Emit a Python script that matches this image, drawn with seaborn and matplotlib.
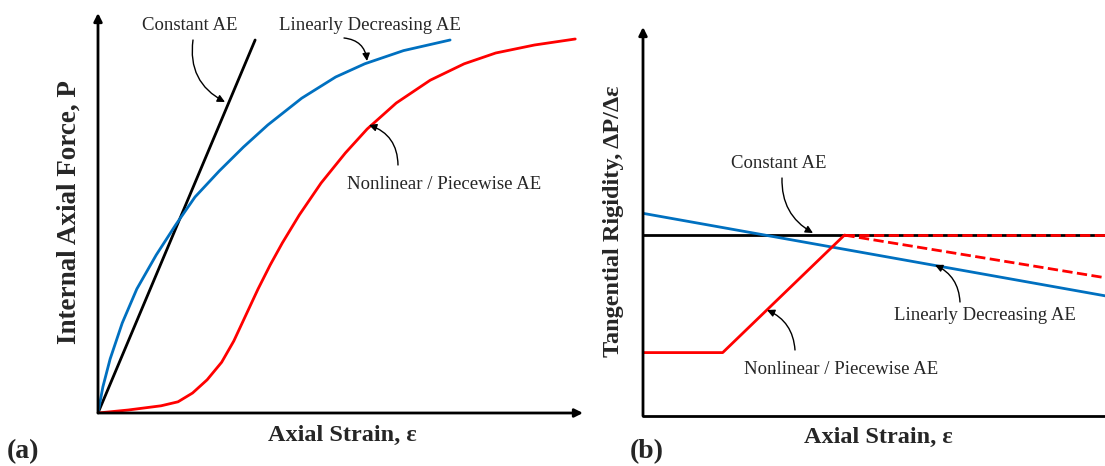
import matplotlib
matplotlib.use("Agg")
import matplotlib.pyplot as plt
from matplotlib.patches import FancyArrowPatch
import seaborn as sns

sns.set_theme(style="white")
plt.rcParams["font.family"] = ["Liberation Serif", "DejaVu Serif"]

BLUE = "#0070c0"
RED = "#ff0000"
W, H = 1105, 466

# ---- panel (a): force vs strain (normalised units) ----
const_x = [0.0, 0.324]
const_y = [0.0, 0.9325]

lin_x = [0.0, 0.01, 0.025, 0.05, 0.08, 0.12, 0.16, 0.2, 0.25, 0.3, 0.35, 0.42,
         0.49, 0.55, 0.63, 0.726]
lin_y = [0.0, 0.065, 0.135, 0.225, 0.31, 0.395, 0.47, 0.54, 0.605, 0.665, 0.72, 0.787,
         0.84, 0.873, 0.906, 0.9325]

nl_x = [0.0, 0.0625, 0.13, 0.165, 0.195, 0.225, 0.255, 0.28, 0.305, 0.33, 0.355,
        0.38, 0.415, 0.46, 0.51, 0.555, 0.615, 0.685, 0.755, 0.82, 0.9, 0.984]
nl_y = [0.0, 0.0075, 0.018, 0.028, 0.05, 0.083, 0.127, 0.18, 0.245, 0.31, 0.37,
        0.425, 0.495, 0.575, 0.65, 0.71, 0.775, 0.832, 0.873, 0.9, 0.92, 0.935]

# ---- panel (b): tangential rigidity vs strain ----
k_const_x = [0.0, 1.0]
k_const_y = [0.465, 0.465]
k_lin_x = [0.0, 1.0]
k_lin_y = [0.521, 0.309]
k_nl_x = [0.0, 0.1725, 0.436]
k_nl_y = [0.163, 0.163, 0.465]
k_nl_flat_x = [0.436, 1.0]
k_nl_flat_y = [0.465, 0.465]
k_nl_drop_x = [0.436, 1.0]
k_nl_drop_y = [0.465, 0.3555]


def fp(px, py):
    # figure pixel (top-left origin) -> figure fraction
    return (px / W, 1 - py / H)


fig = plt.figure(figsize=(W / 100, H / 100), dpi=100)
ax1 = fig.add_axes([98 / W, 1 - 413 / H, 485 / W, 400 / H])
ax2 = fig.add_axes([643 / W, 1 - 416 / H, 462 / W, 389 / H])

for ax in (ax1, ax2):
    ax.set_xticks([]); ax.set_yticks([])
    for s in ax.spines.values():
        s.set_visible(False)
    ax.set_facecolor("none")

ax_arrow = dict(arrowstyle="-|>", color="black", lw=2, mutation_scale=12, shrinkA=0, shrinkB=0)
ax1.annotate("", xy=(0, 1), xytext=(0, 0), xycoords="axes fraction", arrowprops=ax_arrow)
ax1.annotate("", xy=(1, 0), xytext=(0, 0), xycoords="axes fraction", arrowprops=ax_arrow)
ax2.annotate("", xy=(0, 1), xytext=(0, 0), xycoords="axes fraction", arrowprops=ax_arrow)
ax2.plot([0, 1], [0, 0], color="black", lw=2, transform=ax2.transAxes, clip_on=False)

lw = 2
sns.lineplot(x=const_x, y=const_y, ax=ax1, color="black", linewidth=lw, sort=False, estimator=None)
sns.lineplot(x=lin_x, y=lin_y, ax=ax1, color=BLUE, linewidth=lw, sort=False, estimator=None)
sns.lineplot(x=nl_x, y=nl_y, ax=ax1, color=RED, linewidth=lw, sort=False, estimator=None)

sns.lineplot(x=k_const_x, y=k_const_y, ax=ax2, color="black", linewidth=lw, sort=False, estimator=None)
sns.lineplot(x=k_lin_x, y=k_lin_y, ax=ax2, color=BLUE, linewidth=lw, sort=False, estimator=None)
sns.lineplot(x=k_nl_x, y=k_nl_y, ax=ax2, color=RED, linewidth=lw, sort=False, estimator=None)
sns.lineplot(x=k_nl_flat_x, y=k_nl_flat_y, ax=ax2, color=RED, linewidth=lw, linestyle="--",
             sort=False, estimator=None)
sns.lineplot(x=k_nl_drop_x, y=k_nl_drop_y, ax=ax2, color=RED, linewidth=lw, linestyle="--",
             sort=False, estimator=None)
for ax in (ax1, ax2):
    ax.set_xlim(0, 1); ax.set_ylim(0, 1)
    ax.set_xlabel(""); ax.set_ylabel("")

# labels
lab = dict(fontweight="bold", ha="center", va="center")
fig.text(*fp(69, 212), "Internal Axial Force, P", rotation=90, fontsize=19.5, **lab)
fig.text(*fp(342, 435), "Axial Strain, ε", fontsize=17.5, **lab)
fig.text(*fp(614, 221), "Tangential Rigidity, ΔP/Δε", rotation=90, fontsize=17.5, **lab)
fig.text(*fp(878, 437), "Axial Strain, ε", fontsize=17.5, **lab)
fig.text(*fp(23, 452), "(a)", fontsize=20, **lab)
fig.text(*fp(647, 452), "(b)", fontsize=20, **lab)

# callouts
note = dict(fontsize=13.5, ha="center", va="center")
fig.text(*fp(190, 26), "Constant AE", **note)
fig.text(*fp(370, 26), "Linearly Decreasing AE", **note)
fig.text(*fp(444, 185), "Nonlinear / Piecewise AE", **note)
fig.text(*fp(779, 163), "Constant AE", **note)
fig.text(*fp(985, 315), "Linearly Decreasing AE", **note)
fig.text(*fp(841, 370), "Nonlinear / Piecewise AE", **note)

callouts = [((193, 40), (225, 102), 0.35),
            ((344, 38), (367, 61), -0.4),
            ((398, 165), (369, 125), 0.35),
            ((782, 178), (813, 233), 0.3),
            ((960, 302), (935, 265), 0.3),
            ((795, 350), (767, 310), 0.3)]
for tail, head, rad in callouts:
    fig.add_artist(FancyArrowPatch(
        fp(*tail), fp(*head), transform=fig.transFigure,
        arrowstyle="-|>", mutation_scale=11, lw=1, color="black",
        connectionstyle=f"arc3,rad={rad}", shrinkA=0, shrinkB=0))

plt.savefig("out.png", dpi=100)
